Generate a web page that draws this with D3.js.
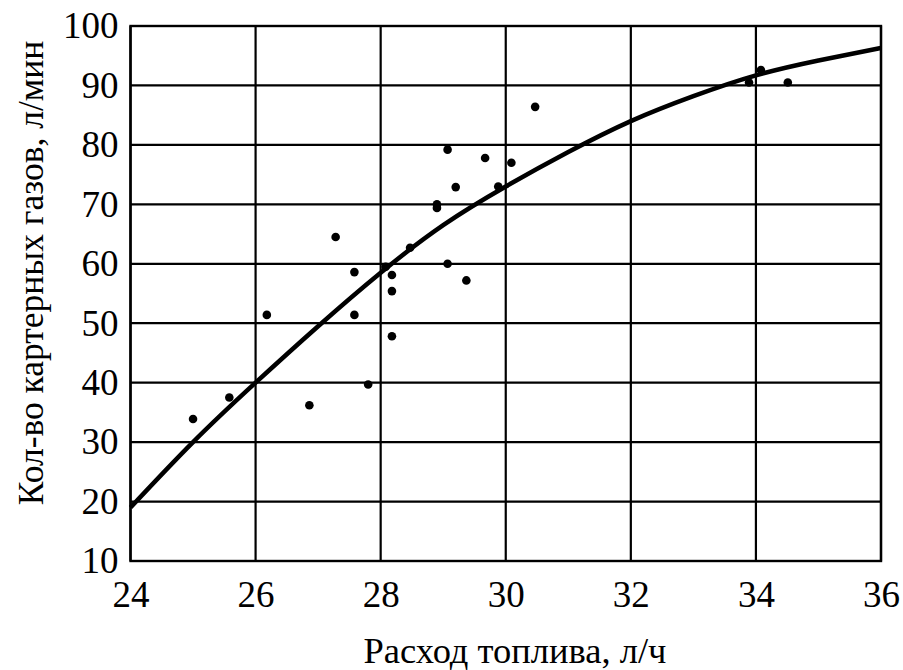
<!DOCTYPE html>
<html>
<head>
<meta charset="utf-8">
<script src="https://cdn.jsdelivr.net/npm/d3@7"></script>
<style>
	body { margin: 0; background: #fff; }
</style>
</head>
<body>
<div id="chart"></div>
<script>
// measured points
var fuelRate = [25.0, 25.58, 26.18, 26.86, 27.28, 27.58, 27.58, 27.80, 28.08, 28.18, 28.18, 28.18, 28.47,
	29.07, 29.07, 29.2, 29.37, 28.9, 28.9, 29.67, 29.88, 30.09, 30.47, 33.89, 34.08, 34.51];
var gasFlow = [33.9, 37.5, 51.4, 36.2, 64.5, 58.6, 51.4, 39.7, 59.5, 58.1, 55.4, 47.8, 62.7,
	60.0, 79.2, 72.9, 57.2, 69.4, 70.0, 77.8, 73.0, 77.0, 86.4, 90.5, 92.6, 90.5];

// approximating curve
var curveX = [24, 25, 26, 27, 28, 29, 30, 31, 32, 33, 34, 35, 36];
var curveY = [19, 30, 40, 49.5, 58.5, 66.5, 73, 78.8, 84, 88.2, 91.7, 94.2, 96.3];

var xTicks = [24, 26, 28, 30, 32, 34, 36];
var yTicks = [10, 20, 30, 40, 50, 60, 70, 80, 90, 100];

var xTitle = "Расход топлива, л/ч";
var yTitle = "Кол-во картерных газов, л/мин";

var FONT = "'Liberation Serif', 'DejaVu Serif', 'Times New Roman', Times, serif";

var W = 903, H = 670;
var margin = { top: 26, right: 22, bottom: 109, left: 130.5 },
	width = W - margin.left - margin.right,
	height = H - margin.top - margin.bottom;

var svg = d3.select("#chart").append("svg")
	.attr("width", W)
	.attr("height", H);

var g = svg.append("g")
	.attr("transform", `translate(${margin.left},${margin.top})`);

var x = d3.scaleLinear().domain([24, 36]).range([0, width]);
var y = d3.scaleLinear().domain([10, 100]).range([height, 0]);

// grid
g.append("g")
	.selectAll("line")
	.data(xTicks)
	.enter()
	.append("line")
	.attr("x1", d => x(d)).attr("x2", d => x(d))
	.attr("y1", 0).attr("y2", height)
	.attr("stroke", "#000")
	.attr("stroke-width", 2.2);

g.append("g")
	.selectAll("line")
	.data(yTicks)
	.enter()
	.append("line")
	.attr("x1", 0).attr("x2", width)
	.attr("y1", d => y(d)).attr("y2", d => y(d))
	.attr("stroke", "#000")
	.attr("stroke-width", 2.2);

g.append("rect")
	.attr("width", width)
	.attr("height", height)
	.attr("fill", "none")
	.attr("stroke", "#000")
	.attr("stroke-width", 2.4);

// axes labels
var xAxis = d3.axisBottom(x).tickValues(xTicks).tickSize(0).tickPadding(20);
var yAxis = d3.axisLeft(y).tickValues(yTicks).tickSize(0).tickPadding(12);

g.append("g")
	.attr("transform", `translate(0,${height})`)
	.call(xAxis)
	.attr("font-family", FONT)
	.attr("font-size", 37)
	.call(a => a.select(".domain").remove())
	.selectAll("text")
	.attr("fill", "#000");

g.append("g")
	.call(yAxis)
	.attr("font-family", FONT)
	.attr("font-size", 37)
	.call(a => a.select(".domain").remove())
	.selectAll("text")
	.attr("fill", "#000");

// curve
var line = d3.line()
	.x(d => x(d[0]))
	.y(d => y(d[1]))
	.curve(d3.curveNatural);

g.append("path")
	.datum(d3.zip(curveX, curveY))
	.attr("d", line)
	.attr("fill", "none")
	.attr("stroke", "#000")
	.attr("stroke-width", 4.5);

// points
g.append("g")
	.selectAll("circle")
	.data(d3.zip(fuelRate, gasFlow))
	.enter()
	.append("circle")
	.attr("cx", d => x(d[0]))
	.attr("cy", d => y(d[1]))
	.attr("r", 4.3)
	.attr("fill", "#000");

// titles
svg.append("text")
	.attr("x", 515)
	.attr("y", 663)
	.attr("text-anchor", "middle")
	.attr("font-family", FONT)
	.attr("font-size", 36.5)
	.text(xTitle);

svg.append("text")
	.attr("transform", "translate(43,273) rotate(-90)")
	.attr("text-anchor", "middle")
	.attr("font-family", FONT)
	.attr("font-size", 35.5)
	.text(yTitle);
</script>
</body>
</html>
